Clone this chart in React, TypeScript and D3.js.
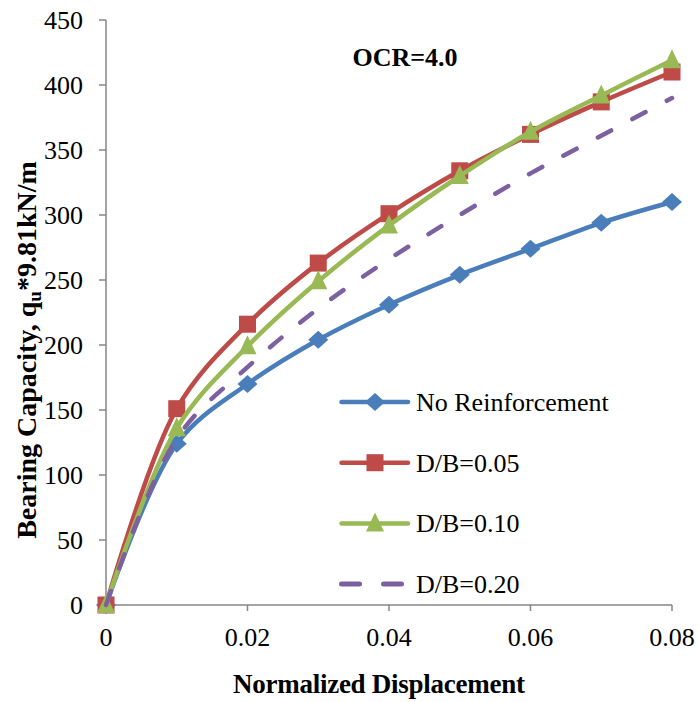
import React from "react";
import * as d3 from "d3";

const displacement = [0, 0.01, 0.02, 0.03, 0.04, 0.05, 0.06, 0.07, 0.08];
const noReinforcement = [0, 124, 170, 204, 231, 254, 274, 294, 310];
const db005 = [0, 151, 216, 263, 301, 334, 362, 387, 410];
const db010 = [0, 136, 199, 249, 292, 330, 364, 392, 419];
const db020 = [0, 128, 183, 228, 266, 300, 332, 361, 390];
const xTicks = [0, 0.02, 0.04, 0.06, 0.08];
const yTicks = [0, 50, 100, 150, 200, 250, 300, 350, 400, 450];

const seriesNames = ["No Reinforcement", "D/B=0.05", "D/B=0.10", "D/B=0.20"];
const seriesValues = [noReinforcement, db005, db010, db020];
const seriesColors = ["#4A7EBB", "#BE4B48", "#98B954", "#7D60A0"];
const seriesMarkers = ["diamond", "square", "triangle", "none"];

const W = 699;
const H = 702;
const margin = { left: 106, right: 27, top: 20, bottom: 97 };

function Marker({ kind, x, y, color }: { kind: string; x: number; y: number; color: string }) {
  if (kind === "diamond") {
    return <path d={`M${x},${y - 9}L${x + 10},${y}L${x},${y + 9}L${x - 10},${y}Z`} fill={color} />;
  }
  if (kind === "square") {
    const s = 8.5;
    return <rect x={x - s} y={y - s} width={2 * s} height={2 * s} fill={color} />;
  }
  if (kind === "triangle") {
    return <path d={`M${x},${y - 11}L${x + 9},${y + 8}L${x - 9},${y + 8}Z`} fill={color} />;
  }
  return null;
}

export default function App() {
  const x = d3.scaleLinear().domain([0, 0.08]).range([margin.left, W - margin.right]);
  const y = d3.scaleLinear().domain([0, 450]).range([H - margin.bottom, margin.top]);
  const line = d3
    .line<number>()
    .x((_, i) => x(displacement[i]))
    .y((v) => y(v))
    .curve(d3.curveCatmullRom.alpha(0.5));

  const font = "'Liberation Serif', 'Times New Roman', serif";
  const x0 = y(0);

  return (
    <svg width={W} height={H} style={{ position: "absolute", left: 0, top: 0, background: "#fff" }}>
      {/* axes */}
      <line x1={x(0)} x2={x(0)} y1={y(450)} y2={x0} stroke="#868686" strokeWidth={1.5} />
      <line x1={x(0)} x2={x(0.08)} y1={x0} y2={x0} stroke="#868686" strokeWidth={1.5} />
      {yTicks.map((t) => (
        <g key={`y${t}`}>
          <line x1={x(0) - 7} x2={x(0)} y1={y(t)} y2={y(t)} stroke="#868686" strokeWidth={1.5} />
          <text x={x(0) - 23} y={y(t)} dy="0.35em" textAnchor="end" fontFamily={font} fontSize={26}>
            {t}
          </text>
        </g>
      ))}
      {xTicks.map((t) => (
        <g key={`x${t}`}>
          <line x1={x(t)} x2={x(t)} y1={x0} y2={x0 + 6} stroke="#868686" strokeWidth={1.5} />
          <text x={x(t)} y={x0 + 41} textAnchor="middle" fontFamily={font} fontSize={26}>
            {t === 0 ? "0" : String(t)}
          </text>
        </g>
      ))}

      {/* series */}
      {seriesValues.map((vals, si) => (
        <g key={seriesNames[si]}>
          <path
            d={line(vals) || ""}
            fill="none"
            stroke={seriesColors[si]}
            strokeWidth={4.5}
            strokeLinecap="round"
            strokeDasharray={seriesMarkers[si] === "none" ? "15 24" : undefined}
          />
          {vals.map((v, i) => (
            <Marker key={i} kind={seriesMarkers[si]} x={x(displacement[i])} y={y(v)} color={seriesColors[si]} />
          ))}
        </g>
      ))}

      {/* legend */}
      {seriesNames.map((name, i) => {
        const ly = 402 + i * 60.7;
        return (
          <g key={`lg${name}`}>
            {seriesMarkers[i] === "none" ? (
              <>
                <line x1={341.5} x2={359.5} y1={ly} y2={ly} stroke={seriesColors[i]} strokeWidth={5} strokeLinecap="round" />
                <line x1={383.5} x2={401.5} y1={ly} y2={ly} stroke={seriesColors[i]} strokeWidth={5} strokeLinecap="round" />
              </>
            ) : (
              <line x1={341.5} x2={408} y1={ly} y2={ly} stroke={seriesColors[i]} strokeWidth={4.5} strokeLinecap="round" />
            )}
            <Marker kind={seriesMarkers[i]} x={375} y={ly} color={seriesColors[i]} />
            <text x={416} y={ly + 9} fontFamily={font} fontSize={26}>
              {name}
            </text>
          </g>
        );
      })}

      {/* titles */}
      <text x={405} y={66} textAnchor="middle" fontFamily={font} fontSize={26} fontWeight="bold">
        OCR=4.0
      </text>
      <text
        x={379}
        y={693}
        textAnchor="middle"
        fontFamily={font}
        fontSize={27}
        fontWeight="bold"
        textLength={292}
        lengthAdjust="spacing"
      >
        Normalized Displacement
      </text>
      <text
        transform={`translate(36,350) rotate(-90)`}
        textAnchor="middle"
        fontFamily={font}
        fontSize={28}
        fontWeight="bold"
      >
        Bearing Capacity, q
        <tspan fontSize={19} dy={5}>u</tspan>
        <tspan dy={-5}>*9.81kN/m</tspan>
      </text>
    </svg>
  );
}
